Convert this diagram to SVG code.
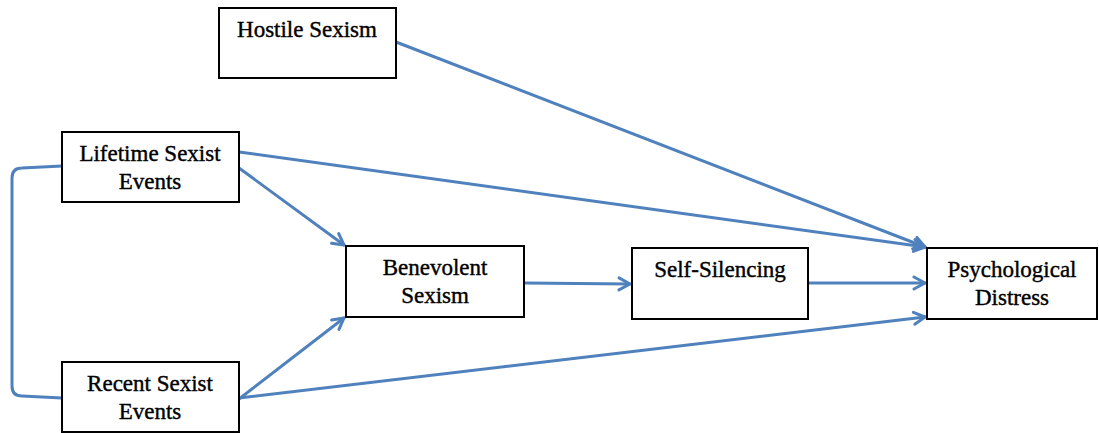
<svg xmlns="http://www.w3.org/2000/svg" width="1099" height="433" viewBox="0 0 1099 433">
  <style>
    .box { fill: #ffffff; stroke: #000000; stroke-width: 2; }
    .edge { fill: none; stroke: #4f81bd; stroke-width: 3; stroke-linecap: round; }
  </style>
  <defs>
    <marker id="arrow" viewBox="0 0 16 16" refX="14" refY="8" markerWidth="16" markerHeight="16" markerUnits="userSpaceOnUse" orient="auto">
      <polyline points="3,2 14,8 3,14" fill="none" stroke="#4f81bd" stroke-width="3" stroke-linecap="round" stroke-linejoin="round"/>
    </marker>
  </defs>

  <rect width="1099" height="433" fill="#ffffff"/>

  <g id="connectors">
    <!-- correlation between lifetime and recent events -->
    <path class="edge" d="M62,166 L22,168 Q12,168 12,178 L12,386 Q12,396 22,396 L62,398"/>
    <line class="edge" x1="396" y1="42" x2="925" y2="247" marker-end="url(#arrow)"/>
    <line class="edge" x1="239" y1="152" x2="925" y2="247" marker-end="url(#arrow)"/>
    <line class="edge" x1="239" y1="168" x2="344" y2="245" marker-end="url(#arrow)"/>
    <line class="edge" x1="239" y1="399" x2="344" y2="318" marker-end="url(#arrow)"/>
    <line class="edge" x1="239" y1="398" x2="925" y2="317" marker-end="url(#arrow)"/>
    <line class="edge" x1="524" y1="283" x2="630" y2="284" marker-end="url(#arrow)"/>
    <line class="edge" x1="808" y1="283" x2="925" y2="283" marker-end="url(#arrow)"/>
  </g>

  <g id="hostile-sexism">
    <rect class="box" x="219" y="8" width="177" height="70"/>
    <text font-family="Liberation Serif" font-size="23" text-anchor="middle" stroke="#000" stroke-width="0.4" x="307" y="37">Hostile Sexism</text>
  </g>

  <g id="lifetime-sexist-events">
    <rect class="box" x="62" y="132" width="177" height="70"/>
    <text font-family="Liberation Serif" font-size="23" text-anchor="middle" stroke="#000" stroke-width="0.4" x="150" y="161">Lifetime Sexist</text>
    <text font-family="Liberation Serif" font-size="23" text-anchor="middle" stroke="#000" stroke-width="0.4" x="150" y="189">Events</text>
  </g>

  <g id="recent-sexist-events">
    <rect class="box" x="62" y="362" width="177" height="70"/>
    <text font-family="Liberation Serif" font-size="23" text-anchor="middle" stroke="#000" stroke-width="0.4" x="150" y="391">Recent Sexist</text>
    <text font-family="Liberation Serif" font-size="23" text-anchor="middle" stroke="#000" stroke-width="0.4" x="150" y="419">Events</text>
  </g>

  <g id="benevolent-sexism">
    <rect class="box" x="346" y="246" width="178" height="71"/>
    <text font-family="Liberation Serif" font-size="23" text-anchor="middle" stroke="#000" stroke-width="0.4" x="435" y="275">Benevolent</text>
    <text font-family="Liberation Serif" font-size="23" text-anchor="middle" stroke="#000" stroke-width="0.4" x="435" y="303">Sexism</text>
  </g>

  <g id="self-silencing">
    <rect class="box" x="632" y="248" width="176" height="71"/>
    <text font-family="Liberation Serif" font-size="23" text-anchor="middle" stroke="#000" stroke-width="0.4" x="720" y="277">Self-Silencing</text>
  </g>

  <g id="psychological-distress">
    <rect class="box" x="927" y="248" width="170" height="71"/>
    <text font-family="Liberation Serif" font-size="23" text-anchor="middle" stroke="#000" stroke-width="0.4" x="1012" y="277">Psychological</text>
    <text font-family="Liberation Serif" font-size="23" text-anchor="middle" stroke="#000" stroke-width="0.4" x="1012" y="305">Distress</text>
  </g>
</svg>
